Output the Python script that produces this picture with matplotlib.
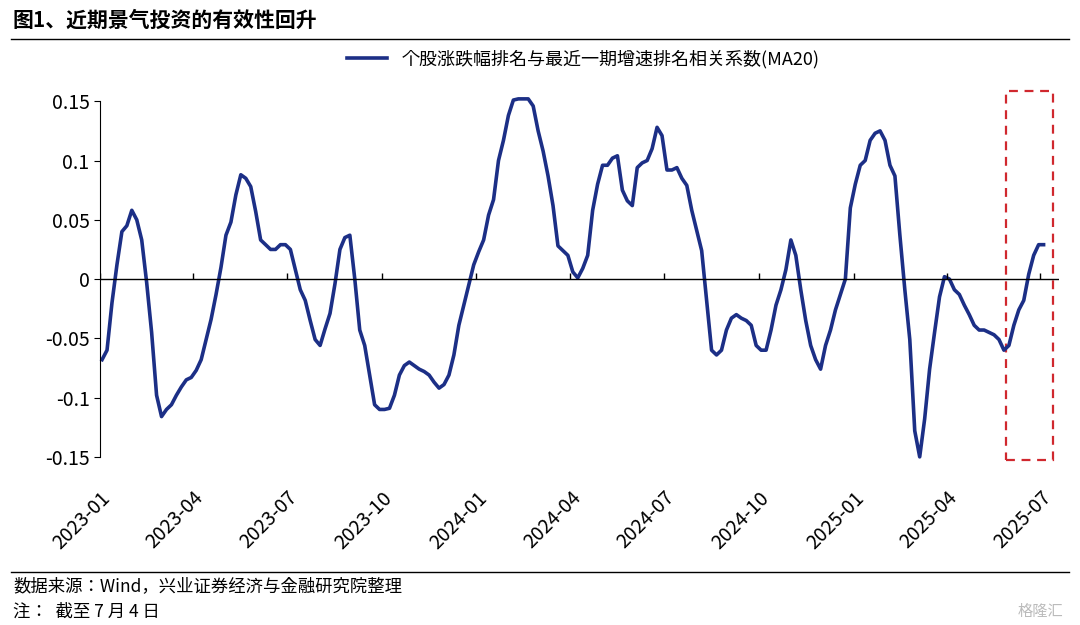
import matplotlib
matplotlib.use("Agg")
import matplotlib.pyplot as plt
import matplotlib.dates as mdates
import matplotlib.patches as patches
from matplotlib import font_manager as fm
import pandas as pd

reg_file, bold_file = None, None
for f in sorted(fm.findSystemFonts()):
    n = f.replace(" ", "")
    if "NotoSansCJK" in n or "NotoSansSC" in n:
        if "Bold" in n and bold_file is None:
            bold_file = f
        if "Regular" in n and reg_file is None:
            reg_file = f
        if reg_file is None and "Light" not in n and "Thin" not in n and "Bold" not in n:
            reg_file = f
if reg_file:
    fm.fontManager.addfont(reg_file)
    fam = fm.FontProperties(fname=reg_file).get_name()
    plt.rcParams['font.family'] = ['sans-serif']
    plt.rcParams['font.sans-serif'] = [fam, 'DejaVu Sans']
plt.rcParams['axes.unicode_minus'] = False
title_fp = fm.FontProperties(fname=bold_file, size=15) if bold_file else fm.FontProperties(size=15, weight="bold")

start_date = "2023-01-03"
end_date = "2025-07-04"
values = [-0.068,-0.060,-0.020,0.012,0.040,0.045,0.058,0.050,0.033,-0.003,-0.045,-0.098,-0.116,-0.110,-0.106,-0.098,-0.091,-0.085,-0.083,-0.077,
-0.068,-0.051,-0.034,-0.013,0.010,0.037,0.048,0.071,0.088,0.085,0.078,0.057,0.033,0.029,0.025,0.025,0.029,0.029,0.025,0.008,
-0.009,-0.018,-0.035,-0.051,-0.056,-0.042,-0.029,-0.004,0.025,0.035,0.037,0.000,-0.043,-0.056,-0.081,-0.106,-0.110,-0.110,-0.109,-0.098,
-0.081,-0.073,-0.070,-0.073,-0.076,-0.078,-0.081,-0.087,-0.092,-0.089,-0.081,-0.064,-0.039,-0.022,-0.005,0.012,0.023,0.033,0.054,0.067,
0.100,0.117,0.138,0.151,0.152,0.152,0.152,0.146,0.125,0.108,0.087,0.062,0.028,0.024,0.020,0.006,0.001,0.009,0.020,0.058,
0.080,0.096,0.096,0.102,0.104,0.075,0.066,0.062,0.094,0.098,0.100,0.110,0.128,0.121,0.092,0.092,0.094,0.085,0.079,0.058,
0.041,0.024,-0.018,-0.060,-0.064,-0.060,-0.043,-0.033,-0.030,-0.033,-0.035,-0.039,-0.056,-0.060,-0.060,-0.043,-0.022,-0.009,0.008,0.033,
0.020,-0.009,-0.035,-0.056,-0.068,-0.076,-0.056,-0.043,-0.026,-0.013,0.000,0.060,0.080,0.096,0.100,0.117,0.123,0.125,0.117,0.096,
0.087,0.037,-0.009,-0.051,-0.128,-0.150,-0.118,-0.076,-0.045,-0.015,0.002,0.000,-0.009,-0.013,-0.022,-0.030,-0.039,-0.043,-0.043,-0.045,
-0.047,-0.051,-0.060,-0.056,-0.039,-0.026,-0.018,0.004,0.020,0.029,0.029]
tick_labels = ["2023-01","2023-04","2023-07","2023-10","2024-01","2024-04","2024-07","2024-10","2025-01","2025-04","2025-07"]
y_ticks = [-0.15,-0.1,-0.05,0,0.05,0.1,0.15]
y_tick_labels = ["-0.15","-0.1","-0.05","0","0.05","0.1","0.15"]
series_name = "个股涨跌幅排名与最近一期增速排名相关系数(MA20)"
highlight_range = ("2025-05-29", "2025-07-13")

dates = pd.date_range(start_date, end_date, periods=len(values))
tick_dates = pd.to_datetime([t + "-01" for t in tick_labels])

fig = plt.figure(figsize=(10.8, 6.25), dpi=100)
ax = fig.add_axes([0.0926, 0.269, 0.888, 0.569])
color = "#1c2f86"
ax.plot(dates, values, color=color, lw=2.6, label=series_name, clip_on=False)
ax.set_ylim(-0.15, 0.15)
ax.set_xlim(pd.Timestamp("2023-01-01"), pd.Timestamp("2025-07-19"))
ax.axhline(0, color="black", lw=1)
ax.vlines(tick_dates, 0, 0.005, color="black", lw=1)
for s in ["top", "right", "bottom"]:
    ax.spines[s].set_visible(False)
ax.spines["left"].set_color("black")
ax.set_yticks(y_ticks)
ax.set_yticklabels(y_tick_labels, fontsize=14)
ax.set_xticks(tick_dates)
ax.set_xticklabels(tick_labels, rotation=45, ha="right", rotation_mode="anchor", fontsize=14)
ax.tick_params(axis="x", length=0, pad=22)
ax.tick_params(axis="y", length=4, direction="out")

x0 = mdates.date2num(pd.Timestamp(highlight_range[0]))
x1 = mdates.date2num(pd.Timestamp(highlight_range[1]))
rect = patches.Rectangle((x0, -0.153), x1 - x0, 0.312, fill=False, edgecolor="#d0282e",
                         lw=1.6, ls=(0, (4, 3)), clip_on=False)
ax.add_patch(rect)

fig.legend(loc="center", bbox_to_anchor=(0.54, 0.905), frameon=False, fontsize=13,
           handlelength=2.2)

fig.text(0.012, 0.968, "图1、近期景气投资的有效性回升", fontproperties=title_fp, va="center")
fig.add_artist(plt.Line2D([0.01, 0.99], [0.938, 0.938], color="black", lw=1))
fig.add_artist(plt.Line2D([0.01, 0.99], [0.085, 0.085], color="black", lw=1))
fig.text(0.012, 0.062, "数据来源：Wind，兴业证券经济与金融研究院整理", fontsize=12.5, va="center")
fig.text(0.012, 0.022, "注：  截至 7 月 4 日", fontsize=12.5, va="center")
fig.text(0.985, 0.022, "格隆汇", fontsize=11, color="#bbbbbb", ha="right", va="center")

fig.savefig("out.png", dpi=100)
